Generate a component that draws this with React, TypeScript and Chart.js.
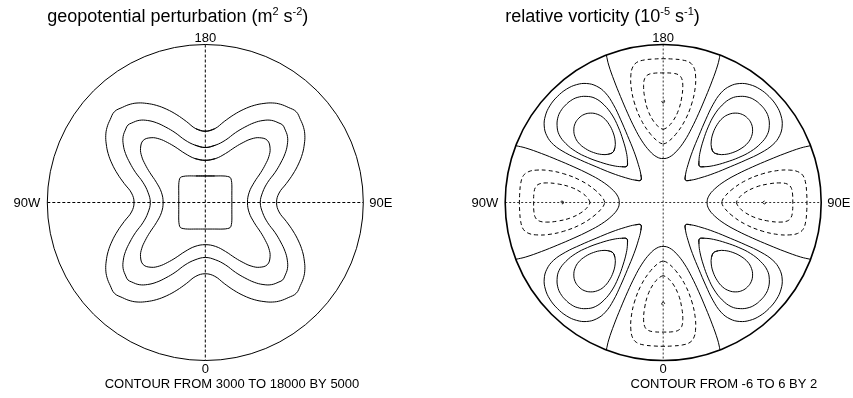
import React, { useEffect, useRef } from "react";
import { Chart, registerables } from "chart.js";

Chart.register(...registerables);

// ---------------- data ----------------
// Left panel: geopotential perturbation (m^2 s^-2), contour levels
const geoLevels = [3000, 8000, 13000, 18000];
// one symmetric octant of each contour, from the top axis ("180") to the NW diagonal:
// [x, y] in fractions of the disc radius
const geo3000 = [[0, 0.451], [-0.06, 0.467], [-0.12, 0.513], [-0.18, 0.555], [-0.244, 0.59], [-0.31, 0.615], [-0.371, 0.627], [-0.425, 0.63], [-0.475, 0.622], [-0.525, 0.602], [-0.575, 0.575]];
const geo8000 = [[0, 0.348], [-0.065, 0.363], [-0.128, 0.395], [-0.191, 0.442], [-0.25, 0.477], [-0.31, 0.505], [-0.365, 0.519], [-0.418, 0.52], [-0.466, 0.503], [-0.49, 0.49]];
const geo13000 = [[0, 0.267], [-0.065, 0.278], [-0.128, 0.31], [-0.191, 0.352], [-0.24, 0.38], [-0.29, 0.402], [-0.343, 0.41], [-0.393, 0.393]];
const geo18000 = [[0, 0.168], [-0.06, 0.168], [-0.112, 0.168], [-0.14, 0.165], [-0.158, 0.158]];

// Right panel: relative vorticity (1e-5 s^-1), contour levels
const vortLevels = [-6, -4, -2, 0, 2, 4, 6];
// half-profiles of each cell: [distance along cell axis, half-width], fractions of disc radius
const vortNeg6 = [[0.628, 0], [0.64, 0.009], [0.652, 0]];
const vortNeg4 = [[0.463, 0], [0.472, 0.02], [0.51, 0.058], [0.585, 0.097], [0.67, 0.118], [0.74, 0.124], [0.785, 0.117], [0.808, 0.097], [0.818, 0.06], [0.82, 0]];
const vortNeg2 = [[0.37, 0], [0.38, 0.025], [0.43, 0.078], [0.52, 0.138], [0.63, 0.182], [0.73, 0.203], [0.8, 0.205], [0.85, 0.196], [0.885, 0.17], [0.902, 0.12], [0.908, 0.06], [0.91, 0]];
const vortZero = [[0.278, 0], [0.288, 0.04], [0.325, 0.085], [0.39, 0.135], [0.47, 0.18], [0.565, 0.225], [0.67, 0.27], [0.77, 0.31], [0.87, 0.345], [0.934, 0.36]];
const vortPos2 = [[0.2, 0], [0.225, 0.025], [0.28, 0.058], [0.36, 0.098], [0.46, 0.14], [0.56, 0.18], [0.66, 0.215], [0.75, 0.232], [0.82, 0.222], [0.875, 0.19], [0.915, 0.14], [0.94, 0.075], [0.948, 0]];
const vortPos4 = [[0.325, 0], [0.345, 0.025], [0.39, 0.06], [0.46, 0.1], [0.54, 0.137], [0.62, 0.163], [0.7, 0.172], [0.77, 0.162], [0.82, 0.13], [0.855, 0.085], [0.87, 0.04], [0.873, 0]];
const vortPos6 = [[0.45, 0], [0.462, 0.03], [0.49, 0.06], [0.535, 0.088], [0.59, 0.107], [0.645, 0.112], [0.69, 0.1], [0.725, 0.075], [0.748, 0.04], [0.755, 0]];
const negCellAxes = [90, 0, 270, 180];
const posCellAxes = [45, 135, 225, 315];

// Texts
const axisLabels = { top: "180", bottom: "0", left: "90W", right: "90E" };
const geoTitle: [string, boolean][] = [["geopotential perturbation (m", false], ["2", true], [" s", false], ["-2", true], [")", false]];
const vortTitle: [string, boolean][] = [["relative vorticity (10", false], ["-5", true], [" s", false], ["-1", true], [")", false]];
const geoInfo = "CONTOUR FROM 3000 TO 18000 BY 5000";
const vortInfo = "CONTOUR FROM -6 TO 6 BY 2";

// ---------------- layout ----------------
const W = 853;
const H = 398;
const DISC_PX = 158;
const LEFT_CX = 205.3;
const RIGHT_CX = 663.2;
const CY = 202.5;
const RIGHT_OFF = (RIGHT_CX - LEFT_CX) / DISC_PX;
const FONT = "'Liberation Sans', Arial, Helvetica, sans-serif";

type P = { x: number; y: number };

// octant -> full closed contour, using the field's mirror / 4-fold symmetry
function geoLoop(oct: number[][]): P[] {
  const quad: number[][] = [...oct];
  const last = oct[oct.length - 1];
  const onDiag = Math.abs(Math.abs(last[0]) - Math.abs(last[1])) < 1e-9;
  const mirrored = oct.slice(1, onDiag ? -1 : undefined).reverse().map(([x, y]) => [-y, -x]);
  quad.push(...mirrored);
  const pts: P[] = [];
  let cur = quad;
  for (let q = 0; q < 4; q++) {
    cur.forEach(([x, y]) => pts.push({ x, y }));
    cur = cur.map(([x, y]) => [-y, x]);
  }
  return pts;
}

function toXY(a: number, c: number, phiDeg: number, off: number): P {
  const p = (phiDeg * Math.PI) / 180;
  return { x: off + a * Math.cos(p) + c * Math.sin(p), y: a * Math.sin(p) - c * Math.cos(p) };
}

function cellLoop(profile: number[][], phi: number, off: number): P[] {
  const right = profile.map(([a, c]) => [a, c]);
  const left = profile.slice(1, -1).reverse().map(([a, c]) => [a, -c]);
  return [...right, ...left].map(([a, c]) => toXY(a, c, phi, off));
}

function openU(profile: number[][], phi: number, off: number): P[] {
  const left = profile.slice(1).reverse().map(([a, c]) => [a, -c]);
  return [...left, ...profile].map(([a, c]) => toXY(a, c, phi, off));
}

function closeSolid(pts: P[]): P[] {
  const n = pts.length;
  return [pts[n - 1], ...pts, pts[0], pts[1]];
}
function closeDashed(pts: P[]): P[] {
  return [...pts, pts[0]];
}

function lineDs(label: string, data: P[], dashed: boolean) {
  return {
    label,
    data,
    showLine: true,
    pointRadius: 0,
    borderWidth: 1,
    borderColor: "#000",
    borderDash: dashed ? [4, 3] : [],
    tension: 0.4,
    fill: false,
  };
}

function buildDatasets() {
  const ds: any[] = [];
  const geoSets = [geo3000, geo8000, geo13000, geo18000];
  geoSets.forEach((oct, i) => ds.push(lineDs(`geo ${geoLevels[i]}`, closeSolid(geoLoop(oct)), false)));

  negCellAxes.forEach((phi) => {
    ds.push(lineDs(`vort ${vortLevels[0]}`, closeDashed(cellLoop(vortNeg6, phi, RIGHT_OFF)), true));
    ds.push(lineDs(`vort ${vortLevels[1]}`, closeDashed(cellLoop(vortNeg4, phi, RIGHT_OFF)), true));
    ds.push(lineDs(`vort ${vortLevels[2]}`, closeDashed(cellLoop(vortNeg2, phi, RIGHT_OFF)), true));
    ds.push(lineDs(`vort ${vortLevels[3]}`, openU(vortZero, phi, RIGHT_OFF), false));
  });
  posCellAxes.forEach((phi) => {
    ds.push(lineDs(`vort ${vortLevels[4]}`, closeSolid(cellLoop(vortPos2, phi, RIGHT_OFF)), false));
    ds.push(lineDs(`vort ${vortLevels[5]}`, closeSolid(cellLoop(vortPos4, phi, RIGHT_OFF)), false));
    ds.push(lineDs(`vort ${vortLevels[6]}`, closeSolid(cellLoop(vortPos6, phi, RIGHT_OFF)), false));
  });
  return ds;
}

function drawRich(ctx: CanvasRenderingContext2D, parts: [string, boolean][], x: number, y: number) {
  let cx = x;
  parts.forEach(([t, sup]) => {
    ctx.font = sup ? `11px ${FONT}` : `18px ${FONT}`;
    ctx.fillText(t, cx, sup ? y - 7 : y);
    cx += ctx.measureText(t).width;
  });
}

const decor = {
  id: "decor",
  beforeDraw(chart: any) {
    const ctx = chart.ctx;
    ctx.save();
    ctx.fillStyle = "#fff";
    ctx.fillRect(0, 0, chart.width, chart.height);
    ctx.restore();
  },
  beforeDatasetsDraw(chart: any) {
    const ctx: CanvasRenderingContext2D = chart.ctx;
    const xs = chart.scales.x;
    const ys = chart.scales.y;
    const r = xs.getPixelForValue(1) - xs.getPixelForValue(0);
    const cy = ys.getPixelForValue(0);
    [0, RIGHT_OFF].forEach((off, i) => {
      const cx = xs.getPixelForValue(off);
      ctx.save();
      ctx.strokeStyle = i === 0 ? "#000" : "#333";
      ctx.lineWidth = 1;
      ctx.setLineDash(i === 0 ? [3, 2] : [2, 2]);
      ctx.beginPath();
      ctx.moveTo(cx - r, cy);
      ctx.lineTo(cx + r, cy);
      ctx.moveTo(cx, cy - r);
      ctx.lineTo(cx, cy + r);
      ctx.stroke();
      ctx.setLineDash([]);
      ctx.lineWidth = i === 0 ? 1 : 1.6;
      ctx.strokeStyle = "#000";
      ctx.beginPath();
      ctx.arc(cx, cy, r, 0, Math.PI * 2);
      ctx.stroke();
      ctx.restore();
    });
  },
  afterDraw(chart: any) {
    const ctx: CanvasRenderingContext2D = chart.ctx;
    const xs = chart.scales.x;
    const ys = chart.scales.y;
    const r = xs.getPixelForValue(1) - xs.getPixelForValue(0);
    const cy = ys.getPixelForValue(0);
    ctx.save();
    ctx.fillStyle = "#000";
    [0, RIGHT_OFF].forEach((off, i) => {
      const cx = xs.getPixelForValue(off);
      ctx.font = `13px ${FONT}`;
      ctx.textBaseline = "alphabetic";
      ctx.textAlign = "center";
      ctx.fillText(axisLabels.top, cx, cy - r - 2.5);
      ctx.fillText(axisLabels.bottom, cx, cy + r + 12);
      ctx.textAlign = "right";
      ctx.fillText(axisLabels.left, cx - r - 7, cy + 4.5);
      ctx.textAlign = "left";
      ctx.fillText(axisLabels.right, cx + r + 6, cy + 4.5);
      ctx.textAlign = "right";
      ctx.fillText(i === 0 ? geoInfo : vortInfo, cx + r - 4, cy + r + 27.5);
      ctx.textAlign = "left";
      drawRich(ctx, i === 0 ? geoTitle : vortTitle, cx - r, cy - r - 22.5);
    });
    ctx.restore();
  },
};

export default function App() {
  const ref = useRef<HTMLCanvasElement | null>(null);
  useEffect(() => {
    if (!ref.current) return;
    const chart = new Chart(ref.current, {
      type: "scatter",
      data: { datasets: buildDatasets() },
      options: {
        animation: false,
        responsive: false,
        events: [],
        layout: { padding: 0 },
        plugins: { legend: { display: false }, tooltip: { enabled: false }, title: { display: false } },
        scales: {
          x: { type: "linear", display: false, min: -LEFT_CX / DISC_PX, max: (W - LEFT_CX) / DISC_PX },
          y: { type: "linear", display: false, min: -(H - CY) / DISC_PX, max: CY / DISC_PX },
        },
      },
      plugins: [decor],
    } as any);
    return () => chart.destroy();
  }, []);
  return (
    <div style={{ position: "absolute", left: 0, top: 0, width: W, height: H }}>
      <canvas ref={ref} width={W} height={H} style={{ width: W, height: H, display: "block" }} />
    </div>
  );
}
